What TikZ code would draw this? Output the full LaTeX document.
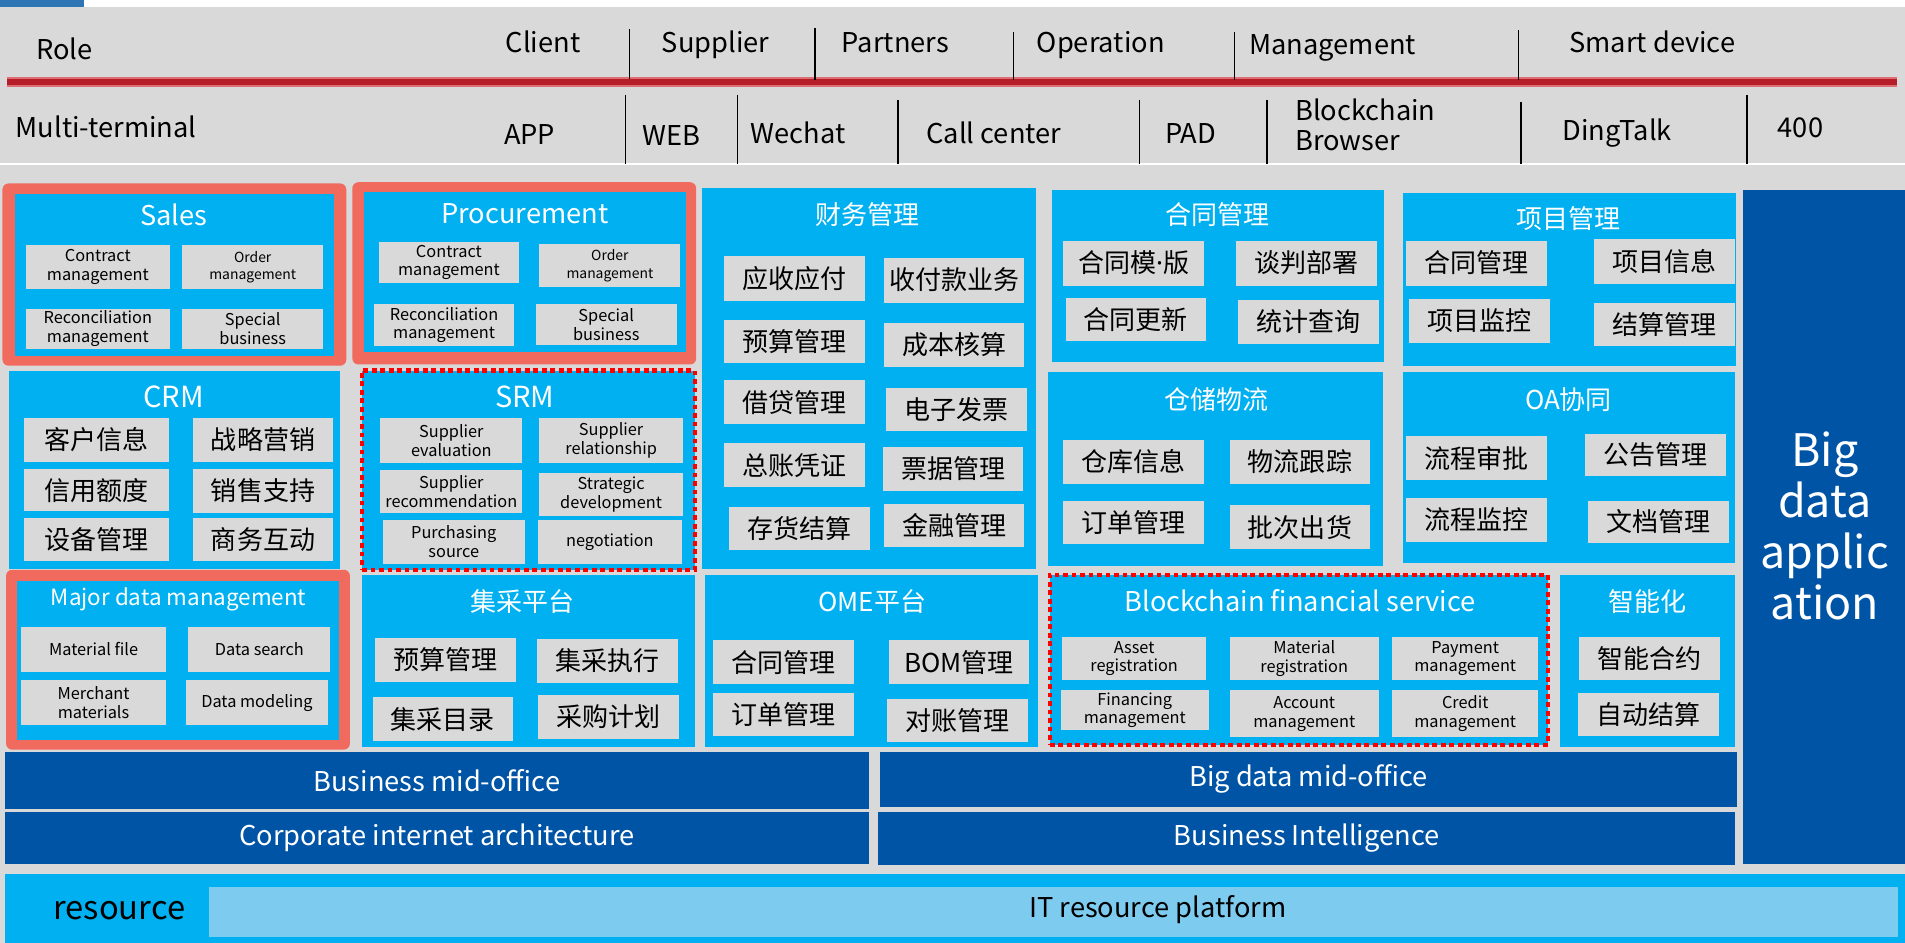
\documentclass[tikz,border=0pt]{standalone}
\usepackage{fontspec}
\setmainfont{Noto Sans CJK SC}
\newfontfamily\latfont{Noto Sans}
\definecolor{bg}{RGB}{217,217,217}
\definecolor{cy}{RGB}{0,176,240}
\definecolor{db}{RGB}{0,84,166}
\definecolor{lb}{RGB}{125,204,240}
\definecolor{sal}{RGB}{240,106,94}
\definecolor{tabc}{RGB}{46,117,182}
\definecolor{rl}{RGB}{181,30,40}
\definecolor{rlb}{RGB}{222,110,115}
\definecolor{itm}{RGB}{217,217,217}
\newcommand\mycell[7]{%
  \pgfmathsetmacro\cw{#4-#2}%
  \pgfmathsetmacro\ch{#5-#3}%
  \node[#6, anchor=north west, minimum width=\cw bp, minimum height=\ch bp] (#1) at (#2,#3) {#7};}
\begin{document}
\begin{tikzpicture}[x=1bp,y=-1bp,
  every node/.style={inner sep=0pt, outer sep=0pt},
  panel/.style={fill=cy},
  frame/.style={fill=sal, rounded corners=5bp},
  dotbox/.style={fill=cy, draw=red, line width=3.5bp, dash pattern=on 4bp off 3bp},
  bar/.style={fill=db, text=white, font=\fontsize{22.5}{26}\selectfont},
  ttl/.style={text=white, font=\fontsize{22.5}{26}\selectfont, anchor=base},
  cttl/.style={text=white, font=\fontsize{21.5}{26}\selectfont, anchor=base},
  en/.style={fill=itm, align=center, text=black, font=\fontsize{13.5}{15.5}\selectfont},
  ensm/.style={fill=itm, align=center, text=black, font=\fontsize{11.5}{14.5}\selectfont},
  cn/.style={fill=itm, align=center, text=black, font=\fontsize{21.5}{26}\selectfont},
  hd/.style={text=black, font=\fontsize{22.5}{25}\selectfont, anchor=base},
  sep/.style={draw=black, line width=1.2bp}
]
\useasboundingbox (0,0) rectangle (1568,776);
\fill[white] (0,0) rectangle (1568,776);
\fill[bg] (0,6) rectangle (1568,776);
\fill[tabc] (0,0) rectangle (69,6);
\draw[white, line width=1.5bp] (0,135) -- (1568,135);
% red line
\draw[rlb, line width=7.5bp] (6,67.5) -- (1561,67.5);
\draw[rl, line width=4.5bp] (6,67.5) -- (1561,67.5);
% header row 1
\node[hd, anchor=base west] (role) at (30,49) {Role};
\node[hd] (client) at (447,43) {Client};
\node[hd] (supplier) at (589,43) {Supplier};
\node[hd] (partners) at (737,43) {Partners};
\node[hd] (operation) at (906,43) {Operation};
\node[hd] (management) at (1097,45) {Management};
\node[hd] (smart) at (1360,43) {Smart device};
\foreach \x/\a/\b in {518/24/65, 671/23/66, 834/26/66, 1016/26/66, 1250/25/66}
  \draw[sep] (\x,\a) -- (\x,\b);
% header row 2
\node[hd, anchor=base west] (multi) at (13,113) {Multi-terminal};
\node[hd] (app) at (436,119) {APP};
\node[hd] (web) at (553,120) {WEB};
\node[hd] (wechat) at (657,118) {Wechat};
\node[hd] (call) at (818,118) {Call center};
\node[hd] (pad) at (980,118) {PAD};
\node[hd, anchor=north west, align=left] (bcb) at (1066,81) {Blockchain\\Browser};
\node[hd] (ding) at (1331,116) {DingTalk};
\node[hd] (n400) at (1482,113) {400};
\foreach \x/\a/\b in {515/78/135, 607/78/135, 739/82/135, 938/82/135, 1043/82/135, 1252/84/135, 1438/78/135}
  \draw[sep] (\x,\a) -- (\x,\b);
% ---------- Sales
\mycell{salesF}{2}{151}{285}{301}{frame}{}
\mycell{sales}{12}{160}{275}{293}{panel}{}
\node[ttl] (salesT) at (143,186) {Sales};
\mycell{s1}{21}{202}{140}{238}{en}{Contract\\management}
\mycell{s2}{150}{202}{266}{238}{ensm}{Order\\management}
\mycell{s3}{21}{254}{140}{287}{en}{Reconciliation\\management}
\mycell{s4}{150}{254}{266}{287}{en}{Special\\business}
% ---------- Procurement
\mycell{procF}{290}{150}{573}{300}{frame}{}
\mycell{proc}{300}{158}{565}{290}{panel}{}
\node[ttl] (procT) at (432,184) {Procurement};
\mycell{p1}{312}{199}{427}{233}{en}{Contract\\management}
\mycell{p2}{444}{201}{560}{236}{ensm}{Order\\management}
\mycell{p3}{308}{250}{423}{285}{en}{Reconciliation\\management}
\mycell{p4}{441}{250}{557}{284}{en}{Special\\business}
% ---------- CRM
\mycell{crm}{7}{305}{280}{468}{panel}{}
\node[ttl, font=\fontsize{24}{28}\selectfont] (crmT) at (143,335) {CRM};
\mycell{c1}{20}{344}{139}{380}{cn}{客户信息}
\mycell{c2}{159}{344}{274}{380}{cn}{战略营销}
\mycell{c3}{20}{386}{139}{421}{cn}{信用额度}
\mycell{c4}{159}{386}{274}{422}{cn}{销售支持}
\mycell{c5}{20}{426}{139}{462}{cn}{设备管理}
\mycell{c6}{159}{426}{274}{462}{cn}{商务互动}
% ---------- Major data management
\mycell{mdmF}{5}{469}{288}{617}{frame}{}
\mycell{mdm}{14}{478}{279}{609}{panel}{}
\node[ttl, font=\fontsize{18.5}{22}\selectfont] (mdmT) at (147,498) {Major data management};
\mycell{m1}{17}{516}{137}{553}{en}{Material file}
\mycell{m2}{155}{516}{272}{553}{en}{Data search}
\mycell{m3}{17}{560}{137}{597}{en}{Merchant\\materials}
\mycell{m4}{153}{560}{270}{597}{en}{Data modeling}
% ---------- SRM
\mycell{srm}{298}{305}{572}{469}{dotbox}{}
\node[ttl, font=\fontsize{24}{28}\selectfont] (srmT) at (432,335) {SRM};
\mycell{r1}{313}{344}{430}{381}{en}{Supplier\\evaluation}
\mycell{r2}{444}{344}{562}{381}{en}{Supplier\\relationship}
\mycell{r3}{313}{387}{430}{422}{en}{Supplier\\recommendation}
\mycell{r4}{444}{389}{562}{425}{en}{Strategic\\development}
\mycell{r5}{315}{428}{432}{464}{en}{Purchasing\\source}
\mycell{r6}{443}{428}{561}{464}{en}{negotiation}
% ---------- 集采平台
\mycell{jc}{298}{473}{572}{615}{panel}{}
\node[cttl] (jcT) at (430,503) {集采平台};
\mycell{j1}{309}{525}{425}{561}{cn}{预算管理}
\mycell{j2}{442}{526}{558}{562}{cn}{集采执行}
\mycell{j3}{307}{574}{422}{610}{cn}{集采目录}
\mycell{j4}{443}{572}{559}{608}{cn}{采购计划}
% ---------- 财务管理
\mycell{cw}{578}{155}{853}{468}{panel}{}
\node[cttl] (cwT) at (714,185) {财务管理};
\mycell{f1}{596}{211}{712}{248}{cn}{应收应付}
\mycell{f2}{728}{212}{843}{249}{cn}{收付款业务}
\mycell{f3}{596}{263}{712}{299}{cn}{预算管理}
\mycell{f4}{728}{266}{843}{302}{cn}{成本核算}
\mycell{f5}{596}{313}{712}{349}{cn}{借贷管理}
\mycell{f6}{729}{319}{845}{355}{cn}{电子发票}
\mycell{f7}{596}{365}{712}{401}{cn}{总账凭证}
\mycell{f8}{727}{368}{842}{404}{cn}{票据管理}
\mycell{f9}{600}{417}{716}{453}{cn}{存货结算}
\mycell{f10}{728}{415}{843}{450}{cn}{金融管理}
% ---------- OME平台
\mycell{ome}{580}{473}{854}{615}{panel}{}
\node[cttl] (omeT) at (718,503) {OME平台};
\mycell{e1}{587}{527}{703}{563}{cn}{合同管理}
\mycell{e2}{732}{527}{847}{563}{cn}{BOM管理}
\mycell{e3}{587}{570}{703}{606}{cn}{订单管理}
\mycell{e4}{730}{575}{846}{611}{cn}{对账管理}
% ---------- 合同管理
\mycell{ht}{866}{156}{1139}{298}{panel}{}
\node[cttl] (htT) at (1002,185) {合同管理};
\mycell{h1}{875}{198}{991}{235}{cn}{合同模{\latfont ·}版}
\mycell{h2}{1017}{198}{1133}{235}{cn}{谈判部署}
\mycell{h3}{877}{245}{993}{281}{cn}{合同更新}
\mycell{h4}{1019}{247}{1135}{283}{cn}{统计查询}
% ---------- 仓储物流
\mycell{cc}{863}{306}{1138}{466}{panel}{}
\node[cttl] (ccT) at (1001,337) {仓储物流};
\mycell{w1}{875}{362}{991}{398}{cn}{仓库信息}
\mycell{w2}{1012}{362}{1128}{398}{cn}{物流跟踪}
\mycell{w3}{875}{412}{991}{448}{cn}{订单管理}
\mycell{w4}{1012}{416}{1128}{452}{cn}{批次出货}
% ---------- 项目管理
\mycell{xm}{1155}{159}{1429}{301}{panel}{}
\node[cttl] (xmT) at (1291,188) {项目管理};
\mycell{x1}{1157}{198}{1273}{235}{cn}{合同管理}
\mycell{x2}{1312}{197}{1428}{234}{cn}{项目信息}
\mycell{x3}{1160}{246}{1276}{282}{cn}{项目监控}
\mycell{x4}{1312}{249}{1428}{285}{cn}{结算管理}
% ---------- OA协同
\mycell{oa}{1155}{306}{1428}{463}{panel}{}
\node[cttl] (oaT) at (1291,337) {OA协同};
\mycell{o1}{1157}{359}{1273}{395}{cn}{流程审批}
\mycell{o2}{1305}{357}{1421}{392}{cn}{公告管理}
\mycell{o3}{1157}{410}{1273}{446}{cn}{流程监控}
\mycell{o4}{1307}{412}{1423}{447}{cn}{文档管理}
% ---------- Blockchain financial service
\mycell{bc}{864}{473}{1274}{613}{dotbox}{}
\node[ttl] (bcT) at (1070,503) {Blockchain financial service};
\mycell{b1}{874}{524}{993}{560}{en}{Asset\\registration}
\mycell{b2}{1012}{524}{1135}{560}{en}{Material\\registration}
\mycell{b3}{1146}{524}{1266}{560}{en}{Payment\\management}
\mycell{b4}{873}{568}{995}{601}{en}{Financing\\management}
\mycell{b5}{1012}{568}{1135}{607}{en}{Account\\management}
\mycell{b6}{1146}{568}{1266}{607}{en}{Credit\\management}
% ---------- 智能化
\mycell{zn}{1284}{473}{1428}{615}{panel}{}
\node[cttl] (znT) at (1356,503) {智能化};
\mycell{z1}{1300}{524}{1416}{560}{cn}{智能合约}
\mycell{z2}{1299}{570}{1415}{606}{cn}{自动结算}
% ---------- Big data application
\mycell{bda}{1435}{156}{1568}{711}{fill=db}{}
\node[text=white, align=center, font=\fontsize{37}{42}\selectfont] (bdaT) at (1502,433) {Big\\data\\applic\\ation};
% ---------- bars
\mycell{bmo}{4}{619}{715}{666}{bar}{Business mid-office}
\mycell{bdmo}{724}{619}{1430}{664}{bar}{Big data mid-office}
\mycell{cia}{4}{668}{715}{711}{bar}{Corporate internet architecture}
\mycell{bi}{723}{668}{1428}{712}{bar}{Business Intelligence}
% ---------- resource
\mycell{res}{4}{719}{1568}{776}{panel}{}
\node[text=black, font=\fontsize{27}{30}\selectfont, anchor=base west] (resT) at (44,757) {resource};
\mycell{itr}{172}{730}{1562}{771}{fill=lb}{}
\node[text=black, font=\fontsize{22.5}{26}\selectfont, anchor=base] (itrT) at (953,755) {IT resource platform};
\end{tikzpicture}
\end{document}
